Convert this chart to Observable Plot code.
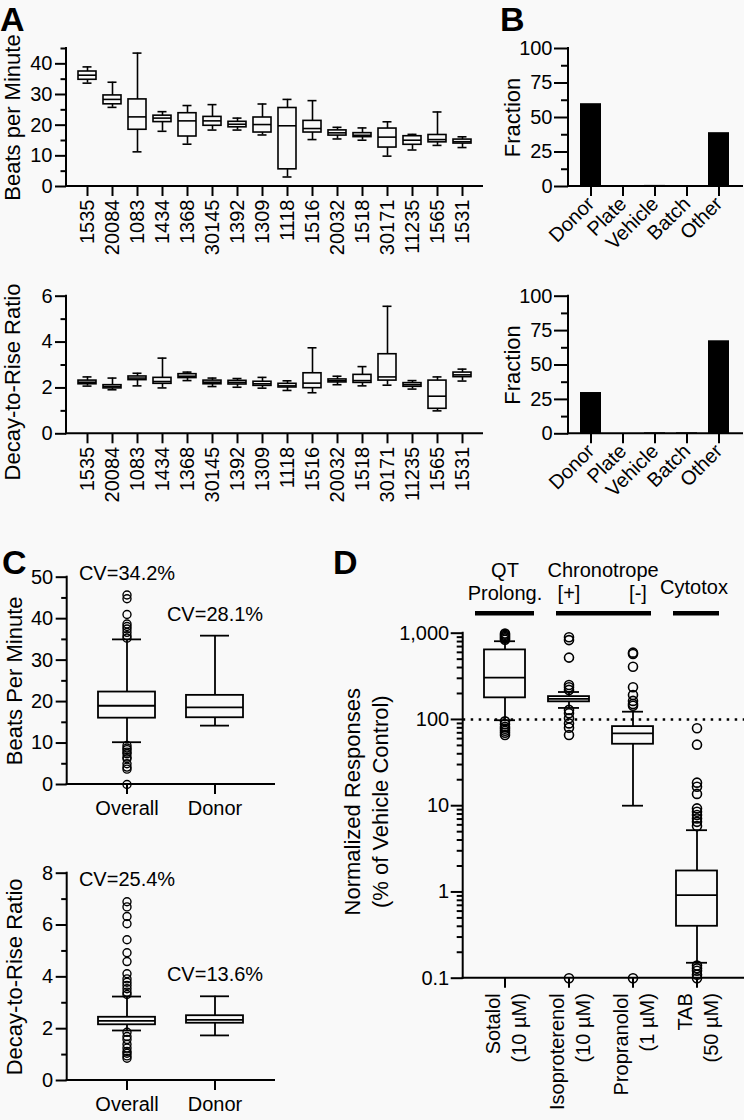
<!DOCTYPE html>
<html><head><meta charset="utf-8">
<script src="https://cdn.jsdelivr.net/npm/d3@7"></script>
<script src="https://cdn.jsdelivr.net/npm/@observablehq/plot@0.6"></script>
<style>
body{margin:0;background:#f9f9f9;}
#fig{position:relative;width:744px;height:1120px;overflow:hidden;font-family:"Liberation Sans",Arial,sans-serif;background:#f9f9f9;}
#fig svg{position:absolute;overflow:visible;}
.letter{position:absolute;font-weight:bold;font-size:34px;line-height:1;color:#000;}
</style></head>
<body><div id="fig"></div>
<script>
// ---------- Panel A data ----------
const donors = ["1535","20084","1083","1434","1368","30145","1392","1309","1118","1516","20032","1518","30171","11235","1565","1531"];
const bpmMin = [33.7,25.8,11.3,18.0,13.8,18.4,18.4,16.8,3.1,15.3,15.5,15.1,9.9,11.9,13.4,12.7];
const bpmQ1  = [34.8,26.8,18.5,21.0,16.3,19.8,19.3,17.6,5.6,17.6,16.6,16.1,12.7,13.6,14.4,14.0];
const bpmMed = [36.3,28.4,22.7,22.3,21.4,21.4,20.3,20.2,19.8,18.9,17.5,16.7,16.1,15.1,15.3,14.6];
const bpmQ3  = [37.5,29.7,28.4,23.1,23.9,22.7,21.1,22.5,25.6,21.4,18.3,17.4,18.9,16.4,16.8,15.3];
const bpmMax = [39.0,34.0,43.5,24.4,26.4,26.7,22.3,26.9,28.4,28.0,19.3,19.1,21.1,17.0,24.3,16.2];
const drMin = [2.08,1.92,2.09,2.00,2.32,2.06,2.03,1.99,1.89,1.79,2.14,2.09,2.12,1.95,1.00,2.30];
const drQ1  = [2.16,1.98,2.34,2.18,2.43,2.16,2.15,2.09,2.02,1.99,2.24,2.22,2.32,2.05,1.09,2.47];
const drMed = [2.25,2.06,2.43,2.28,2.51,2.25,2.24,2.18,2.09,2.21,2.31,2.32,2.48,2.14,1.64,2.57];
const drQ3  = [2.32,2.12,2.50,2.44,2.60,2.32,2.31,2.27,2.18,2.64,2.37,2.57,3.47,2.21,2.32,2.67];
const drMax = [2.48,2.43,2.64,3.30,2.69,2.43,2.41,2.46,2.31,3.75,2.51,2.93,5.56,2.32,2.48,2.82];
const bpmTicks = [0,10,20,30,40], bpmMinor = [5,15,25,35,45];
const drTicks = [0,2,4,6], drMinor = [1,3,5];

// ---------- Panel B data ----------
const sources = ["Donor","Plate","Vehicle","Batch","Other"];
const fracBpm = [60, 0, 0.8, 0, 39];
const fracDr  = [30, 0, 0.7, 0.7, 67.6];
const fracTicks = [0,25,50,75,100], fracMinor = [12.5,37.5,62.5,87.5];

// ---------- Panel C data ----------
const groupsC = ["Overall","Donor"];
const cBpmMin = [10.2,14.2], cBpmQ1 = [16.0,16.1], cBpmMed = [19.0,18.6], cBpmQ3 = [22.3,21.5], cBpmMax = [35.0,35.9];
const cBpmOutliers = [45.7,44.8,41.0,38.7,38.1,37.5,36.7,35.9,35.3,9.4,8.8,8.4,7.8,7.4,6.6,6.2,5.0,4.2,3.7,0];
const cBpmCV = ["CV=34.2%","CV=28.1%"];
const cDrMin = [1.93,1.74], cDrQ1 = [2.15,2.21], cDrMed = [2.30,2.34], cDrQ3 = [2.44,2.50], cDrMax = [3.24,3.25];
const cDrOutliers = [6.9,6.7,6.33,6.05,5.43,4.93,4.59,4.12,3.92,3.79,3.67,3.54,3.41,3.32,1.86,1.7,1.58,1.4,1.25,1.12,1.05,0.95,0.86];
const cDrCV = ["CV=25.4%","CV=13.6%"];
const cBpmTicks = [0,10,20,30,40,50], cBpmMinor = [5,15,25,35,45];
const cDrTicks = [0,2,4,6,8], cDrMinor = [1,3,5,7];

// ---------- Panel D data ----------
const drugs = ["Sotalol\n(10 µM)","Isoproterenol\n(10 µM)","Propranolol\n(1 µM)","TAB\n(50 µM)"];
const dMin = [98, 136, 10, 0.151];
const dQ1  = [178, 160, 51.6, 0.40];
const dMed = [305, 173, 69, 0.92];
const dQ3  = [640, 184, 82.6, 1.75];
const dMax = [807, 208, 123, 5.2];
const dOutSotalol = [990, 960, 930, 900, 870, 840, 95, 88, 82, 78, 74, 70, 66];
const dOutIso = [898, 832, 521, 251, 236, 220, 129, 118, 103, 90, 80, 66, 0.1];
const dOutProp = [595, 575, 409, 236, 192, 164, 151, 144, 0.1];
const dOutTab = [79, 51, 18.5, 16.6, 13.7, 9.3, 8.5, 7.8, 7.1, 6.5, 5.8, 0.14, 0.13, 0.122, 0.11, 0.1];
const dTicks = [0.1, 1, 10, 100, 1000];
const dMinor = [0.1,1,10,100].flatMap(b => [2,3,4,5,6,7,8,9].map(k => +(b*k).toPrecision(3)));
const vehicleLevel = [100];

// ---------- helpers ----------
const FONT = "'Liberation Sans', Arial, Helvetica, sans-serif";
const fig = document.getElementById("fig");
const numFmt = d3.format(",");
function place(svg, left, top) { svg.style.left = left + "px"; svg.style.top = top + "px"; fig.appendChild(svg); }
function letter(t, left, top) { const d = document.createElement("div"); d.className = "letter"; d.textContent = t; d.style.left = left + "px"; d.style.top = top + "px"; fig.appendChild(d); }
const rowsOf = (cats, mn, q1, md, q3, mx) => cats.map((cat, i) => ({cat, min: mn[i], q1: q1[i], med: md[i], q3: q3[i], max: mx[i]}));
const style = {background: "transparent", fontFamily: FONT, color: "black", overflow: "visible"};

function boxMarks(rows, capInset, sw) {
  return [
    Plot.ruleX(rows, {x: "cat", y1: "min", y2: "q1", strokeWidth: sw}),
    Plot.ruleX(rows, {x: "cat", y1: "q3", y2: "max", strokeWidth: sw}),
    Plot.barY(rows, {x: "cat", y1: "q1", y2: "q3", fill: "none", stroke: "black", strokeWidth: sw}),
    Plot.tickY(rows, {x: "cat", y: "med", strokeWidth: sw}),
    Plot.tickY(rows, {x: "cat", y: "min", strokeWidth: sw, insetLeft: capInset, insetRight: capInset}),
    Plot.tickY(rows, {x: "cat", y: "max", strokeWidth: sw, insetLeft: capInset, insetRight: capInset})
  ];
}
function axisLines(sw) {
  return (index, scales, values, dim) => {
    const g = d3.create("svg:g").attr("stroke", "black").attr("stroke-width", sw).attr("stroke-linecap", "square");
    const x0 = dim.marginLeft, x1 = dim.width - dim.marginRight, y0 = dim.marginTop, y1 = dim.height - dim.marginBottom;
    g.append("line").attr("x1", x0).attr("x2", x0).attr("y1", y0).attr("y2", y1);
    g.append("line").attr("x1", x0).attr("x2", x1).attr("y1", y1).attr("y2", y1);
    return g.node();
  };
}
const yLabel = (label, dx, dy = 0) => Plot.text([label], {text: d => d, frameAnchor: "left", rotate: -90, textAnchor: "middle", lineAnchor: "top", dx, dy, fontSize: 22, lineHeight: 1.27});
const yAxes = (ticks, minor, major = 11, pad = 3, fs = 20) => [
  Plot.axisY({ticks, tickSize: major, tickPadding: pad, fontSize: fs, strokeWidth: 2, label: null, tickFormat: numFmt}),
  Plot.axisY({ticks: minor, tickSize: major / 2, tickFormat: () => "", strokeWidth: 2, label: null})
];

// ---------- Panel A ----------
function panelA(rows, o) {
  return Plot.plot({
    width: 500, height: 260, marginLeft: 66, marginRight: 18, marginTop: o.marginTop, marginBottom: o.marginBottom,
    style,
    x: {type: "band", domain: donors, paddingInner: 0.3, paddingOuter: 0.355, label: null},
    y: {domain: o.domain, label: null},
    marks: [
      ...yAxes(o.ticks, o.minor),
      Plot.axisX({tickSize: 10, tickPadding: 3, tickRotate: -90, fontSize: 20, strokeWidth: 2, label: null}),
      ...boxMarks(rows, 4.5, 1.6),
      axisLines(2),
      yLabel(o.label, -66, o.labelDy || 0)
    ]
  });
}
place(panelA(rowsOf(donors, bpmMin, bpmQ1, bpmMed, bpmQ3, bpmMax), {domain: [0, 45], ticks: bpmTicks, minor: bpmMinor, label: "Beats per Minute", marginTop: 48, marginBottom: 74}), 0, 0);
place(panelA(rowsOf(donors, drMin, drQ1, drMed, drQ3, drMax), {domain: [0, 6], ticks: drTicks, minor: drMinor, label: "Decay-to-Rise Ratio", marginTop: 35.7, marginBottom: 86.7, labelDy: 17}), 0, 260);

// ---------- Panel B ----------
function panelB(vals, o) {
  const rows = sources.map((s, i) => ({s, v: vals[i]}));
  return Plot.plot({
    width: 244, height: 260, marginLeft: 68, marginRight: 2, marginTop: o.marginTop, marginBottom: o.marginBottom,
    style,
    x: {type: "band", domain: sources, paddingInner: 0.33, paddingOuter: 0.354, label: null},
    y: {domain: [0, 100], label: null},
    marks: [
      ...yAxes(fracTicks, fracMinor, 14, 2),
      Plot.axisX({tickSize: 10, tickPadding: 4, tickRotate: -45, fontSize: 20, strokeWidth: 2, label: null}),
      Plot.barY(rows, {x: "s", y: "v", fill: "black"}),
      axisLines(2),
      yLabel("Fraction", -68)
    ]
  });
}
place(panelB(fracBpm, {marginTop: 48, marginBottom: 74}), 500, 0);
place(panelB(fracDr, {marginTop: 35.7, marginBottom: 86.7}), 500, 260);

// ---------- Panel C ----------
function panelC(rows, outliers, cv, o) {
  const out = outliers.map(v => ({cat: groupsC[0], v}));
  const tops = rows.map((r, i) => ({cat: r.cat, cv: cv[i], top: Math.max(r.max, ...out.filter(d => d.cat === r.cat).map(d => d.v))}));
  return Plot.plot({
    width: 300, height: 300, marginLeft: 66.7, marginRight: 26, marginTop: o.marginTop, marginBottom: o.marginBottom,
    style,
    x: {type: "band", domain: groupsC, paddingInner: 0.35, paddingOuter: 0.34, label: null},
    y: {domain: o.domain, label: null},
    marks: [
      ...yAxes(o.ticks, o.minor),
      Plot.axisX({tickSize: 10, tickPadding: 6, fontSize: 20, strokeWidth: 2, label: null}),
      ...boxMarks(rows, 14, 1.8),
      Plot.dot(out, {x: "cat", y: "v", r: 4, stroke: "black", strokeWidth: 1.4, fill: "none"}),
      Plot.text(tops, {x: "cat", y: "top", text: "cv", dy: o.cvDy, fontSize: 20, lineAnchor: "middle"}),
      axisLines(2),
      yLabel(o.label, -65)
    ]
  });
}
place(panelC(rowsOf(groupsC, cBpmMin, cBpmQ1, cBpmMed, cBpmQ3, cBpmMax), cBpmOutliers, cBpmCV,
  {domain: [0, 50], ticks: cBpmTicks, minor: cBpmMinor, label: "Beats Per Minute", marginTop: 56.7, marginBottom: 36, cvDy: -21}), 0, 520);
place(panelC(rowsOf(groupsC, cDrMin, cDrQ1, cDrMed, cDrQ3, cDrMax), cDrOutliers, cDrCV,
  {domain: [0, 8], ticks: cDrTicks, minor: cDrMinor, label: "Decay-to-Rise Ratio", marginTop: 52.7, marginBottom: 40, cvDy: -22}), 0, 820);

// ---------- Panel D ----------
{
  const rows = rowsOf(drugs, dMin, dQ1, dMed, dQ3, dMax);
  const outs = [dOutSotalol, dOutIso, dOutProp, dOutTab].flatMap((arr, i) => arr.map(v => ({cat: drugs[i], v})));
  const top = dTicks[dTicks.length - 1];
  const hdr = {fontSize: 20, frameAnchor: "top", lineAnchor: "middle", lineHeight: 1.15};
  const svg = Plot.plot({
    width: 414, height: 600, marginLeft: 132.7, marginRight: 0, marginTop: 112.7, marginBottom: 142.3,
    style,
    x: {type: "band", domain: drugs, paddingInner: 0.36, paddingOuter: 0.374, align: 0.44, label: null},
    y: {type: "log", domain: [0.1, 1000], label: null},
    marks: [
      ...yAxes(dTicks, dMinor, 12, 2),
      Plot.axisX({tickSize: 10, tickPadding: 5, tickRotate: -90, fontSize: 20, strokeWidth: 2, label: null, lineHeight: 1.3}),
      Plot.ruleY(vehicleLevel, {strokeWidth: 2.5, strokeDasharray: "2.5,5.5"}),
      ...boxMarks(rows, 10, 1.8),
      Plot.dot(outs, {x: "cat", y: "v", r: 4.5, stroke: "black", strokeWidth: 1.6, fill: "none"}),
      // group headers
      Plot.text([drugs[0]], {...hdr, x: d => d, text: () => "QT\nProlong.", dy: -52}),
      Plot.text([drugs[1]], {...hdr, x: d => d, text: () => "Chronotrope", textAnchor: "start", dx: -21.5, dy: -63.7}),
      Plot.text([drugs[1]], {...hdr, x: d => d, text: () => "[+]", dy: -40.7}),
      Plot.text([drugs[2]], {...hdr, x: d => d, text: () => "[-]", dx: 5, dy: -40.7}),
      Plot.text([drugs[3]], {...hdr, x: d => d, text: () => "Cytotox", dx: -3, dy: -46.7}),
      Plot.tickY([drugs[0]], {x: d => d, y: () => top, dy: -20, strokeWidth: 4.5, insetLeft: -9, insetRight: -9}),
      Plot.tickY([drugs[1]], {x: d => d, y: () => top, dy: -20, strokeWidth: 4.5, insetLeft: 8, insetRight: -12}),
      Plot.tickY([drugs[2]], {x: d => d, y: () => top, dy: -20, strokeWidth: 4.5, insetLeft: -11, insetRight: 2}),
      Plot.tickY([drugs[3]], {x: d => d, y: () => top, dy: -20, strokeWidth: 4.5, insetLeft: -3, insetRight: -2}),
      axisLines(2),
      yLabel("Normalized Responses\n(% of Vehicle Control)", -122.7, -4)
    ]
  });
  place(svg, 330, 520);
}

letter("A", 0, 2);
letter("B", 500, 2);
letter("C", 2, 545);
letter("D", 333, 545);
</script></body></html>
